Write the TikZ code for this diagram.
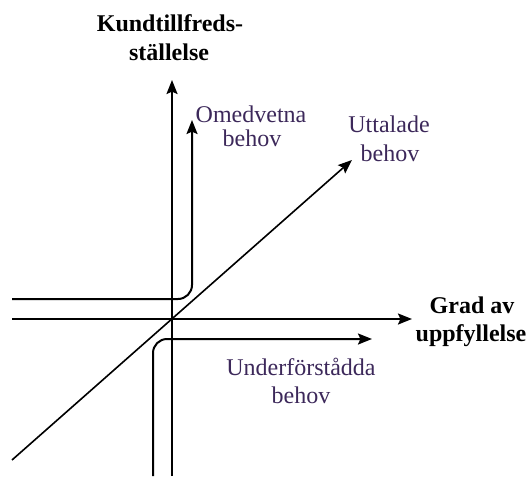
\documentclass[tikz,border=0pt]{standalone}
\usepackage{fontspec}
\setmainfont{Liberation Serif}
\usetikzlibrary{arrows.meta}
\definecolor{lbl}{RGB}{60,40,90}
\tikzset{
  axis/.style={line width=1pt,-{Stealth[length=7pt,width=5.5pt,inset=1.2pt]}},
  curve/.style={axis,rounded corners=7pt},
  diag/.style={line width=0.8pt,-{Stealth[length=7pt,width=5.5pt,inset=1.2pt]}},
  boldtxt/.style={font=\fontsize{12}{14}\selectfont\bfseries,anchor=base,inner sep=0pt},
  regtxt/.style={font=\fontsize{12}{14}\selectfont,text=lbl,anchor=base,inner sep=0pt}
}
\begin{document}
\begin{tikzpicture}[x=0.5pt,y=-0.5pt]
\useasboundingbox (0,0) rectangle (529,476);
% coordinates
\coordinate (ybot) at (172,476);
\coordinate (ytop) at (172,80);
\coordinate (xl) at (12,319);
\coordinate (xr) at (412,319);
\coordinate (oms) at (12,299);
\coordinate (omc) at (192,299);
\coordinate (ome) at (192,120);
\coordinate (uns) at (153,476);
\coordinate (unc) at (153,339);
\coordinate (une) at (372,339);
\coordinate (ds) at (12,460);
\coordinate (de) at (352,160);
% lines
\draw[axis] (ybot) -- (ytop);
\draw[axis] (xl) -- (xr);
\draw[curve] (oms) -- (omc) -- (ome);
\draw[curve] (uns) -- (unc) -- (une);
\draw[diag] (ds) -- (de);
% labels
\node[boldtxt] (k1) at (170,32) {Kundtillfreds-};
\node[boldtxt] (k2) at (169,61) {ställelse};
\node[boldtxt] (g1) at (472,313) {Grad av};
\node[boldtxt] (g2) at (471,341) {uppfyllelse};
\node[regtxt] (o1) at (251,122) {Omedvetna};
\node[regtxt] (o2) at (252,146) {behov};
\node[regtxt] (u1) at (389,133) {Uttalade};
\node[regtxt] (u2) at (390,161) {behov};
\node[regtxt] (d1) at (301,375) {Underförstådda};
\node[regtxt] (d2) at (301,403) {behov};
\end{tikzpicture}
\end{document}
